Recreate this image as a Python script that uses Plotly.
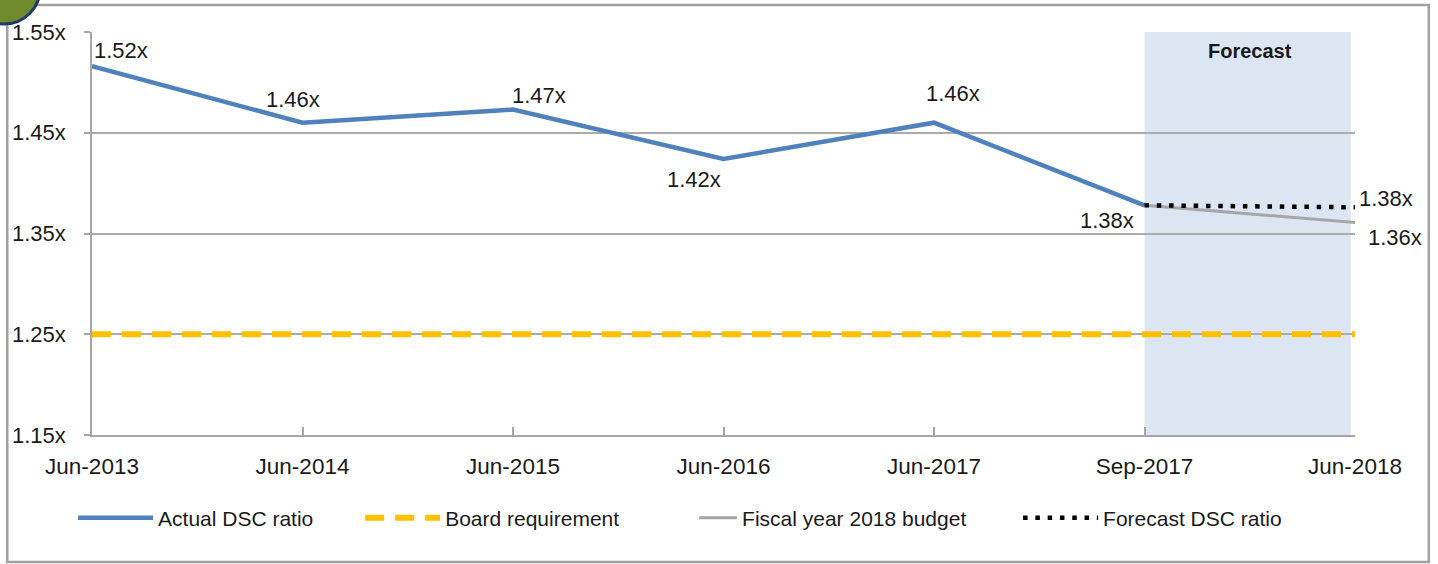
import plotly.graph_objects as go

# ---------------- data ----------------
categories = ["Jun-2013", "Jun-2014", "Jun-2015", "Jun-2016", "Jun-2017", "Sep-2017", "Jun-2018"]
actual_cats = categories[:6]
actual_vals = [1.516, 1.460, 1.473, 1.424, 1.460, 1.378]
board_vals = [1.25] * len(categories)
budget_cats = ["Sep-2017", "Jun-2018"]
budget_vals = [1.378, 1.361]
forecast_cats = ["Sep-2017", "Jun-2018"]
forecast_vals = [1.378, 1.376]
y_ticks = [1.15, 1.25, 1.35, 1.45, 1.55]
y_ticktext = ["1.15x", "1.25x", "1.35x", "1.45x", "1.55x"]

# label text and offsets (px) for data labels
actual_labels = ["1.52x", "1.46x", "1.47x", "1.42x", "1.46x", "1.38x"]
actual_label_pos = [(0, 16, "left"), (-10, 23, "center"), (26, 14, "center"),
                    (-30, -21, "center"), (19, 29, "center"), (-38, -15, "center")]

FONT = "Liberation Sans, Arial, sans-serif"
W, H = 1438, 564
ML, MR, MT, MB = 88, 83, 32, 129
PW, PH = W - ML - MR, H - MT - MB


def px(x):
    return (x - ML) / PW


def py(y):
    return (H - MB - y) / PH


fig = go.Figure()

fig.add_trace(go.Scatter(x=actual_cats, y=actual_vals, mode="lines",
                         name="Actual DSC ratio", legend="legend",
                         line=dict(color="#4F81BD", width=4.5)))
fig.add_trace(go.Scatter(x=categories, y=board_vals, mode="lines",
                         name="Board requirement", legend="legend2",
                         line=dict(color="#FFC000", width=6, dash="19px,11px")))
fig.add_trace(go.Scatter(x=budget_cats, y=budget_vals, mode="lines",
                         name="Fiscal year 2018 budget", legend="legend3",
                         line=dict(color="#A6A6A6", width=3)))
fig.add_trace(go.Scatter(x=forecast_cats, y=forecast_vals, mode="lines",
                         name="Forecast DSC ratio", legend="legend4",
                         line=dict(color="#000000", width=4.5, dash="4.5px,7.8px")))

# Forecast shading
i0 = categories.index("Sep-2017")
i1 = categories.index("Jun-2018")
fig.add_shape(type="rect", xref="x", yref="y", x0=i0, x1=i1 - 0.02,
              y0=y_ticks[0], y1=y_ticks[-1], fillcolor="#DCE6F2",
              line=dict(width=0), layer="below")
fig.add_annotation(x=(i0 + i1) / 2, y=y_ticks[-1], xref="x", yref="y",
                   text="<b>Forecast</b>", showarrow=False, yanchor="top", yshift=-6,
                   font=dict(family=FONT, size=20, color="#1a1a1a"))

# data labels
lab_font = dict(family=FONT, size=22, color="#1a1a1a")
for c, v, t, (dx, dy, anc) in zip(actual_cats, actual_vals, actual_labels, actual_label_pos):
    fig.add_annotation(x=c, y=v, text=t, showarrow=False, xanchor=anc, yanchor="middle",
                       xshift=dx, yshift=dy, font=lab_font)
fig.add_annotation(x=forecast_cats[-1], y=forecast_vals[-1], text="1.38x", showarrow=False,
                   xanchor="left", yanchor="middle", xshift=2, yshift=9, font=lab_font)
fig.add_annotation(x=budget_cats[-1], y=budget_vals[-1], text="1.36x", showarrow=False,
                   xanchor="left", yanchor="middle", xshift=11, yshift=-15, font=lab_font)

# outer frame
fig.add_shape(type="rect", xref="paper", yref="paper", x0=px(3), x1=px(1429),
              y0=py(562), y1=py(5), line=dict(color="#A0A0A0", width=2.5), layer="below")
# corner badge
fig.add_shape(type="circle", xref="paper", yref="paper", x0=px(-36), x1=px(36),
              y0=py(24), y1=py(-48), fillcolor="#6E8B2E", line=dict(color="#1F3A6E", width=3))

leg_common = dict(orientation="h", yanchor="middle", y=py(518), xanchor="left",
                  font=dict(family=FONT, size=21, color="#1a1a1a"),
                  bgcolor="rgba(0,0,0,0)", itemwidth=75, tracegroupgap=0)
fig.update_layout(
    width=W, height=H,
    margin=dict(l=ML, r=MR, t=MT, b=MB),
    paper_bgcolor="white", plot_bgcolor="white",
    font=dict(family=FONT, size=22, color="#1a1a1a"),
    showlegend=True,
    legend=dict(leg_common, x=px(69)),
    legend2=dict(leg_common, x=px(357)),
    legend3=dict(leg_common, x=px(692), itemwidth=38),
    legend4=dict(leg_common, x=px(1017)),
    xaxis=dict(type="category", categoryorder="array", categoryarray=categories,
               range=[0, len(categories) - 1], showgrid=False,
               showline=True, linecolor="#A6A6A6", linewidth=1.5,
               ticks="inside", ticklen=8, tickcolor="#A6A6A6", tickwidth=1.5,
               ticklabelstandoff=10,
               tickfont=dict(family=FONT, size=22.5, color="#1a1a1a")),
    yaxis=dict(range=[y_ticks[0], y_ticks[-1]], tickvals=y_ticks, ticktext=y_ticktext,
               showgrid=True, gridcolor="#ABABAB", gridwidth=1.5, zeroline=False,
               showline=True, linecolor="#A6A6A6", linewidth=1.5,
               ticks="outside", ticklen=6, tickcolor="#A6A6A6", tickwidth=1.5,
               ticklabelstandoff=14,
               tickfont=dict(family=FONT, size=22, color="#1a1a1a")),
)

fig.write_html("out.html", config={"displayModeBar": False},
               post_script="document.body.style.margin='0';document.body.style.overflow='hidden';")
